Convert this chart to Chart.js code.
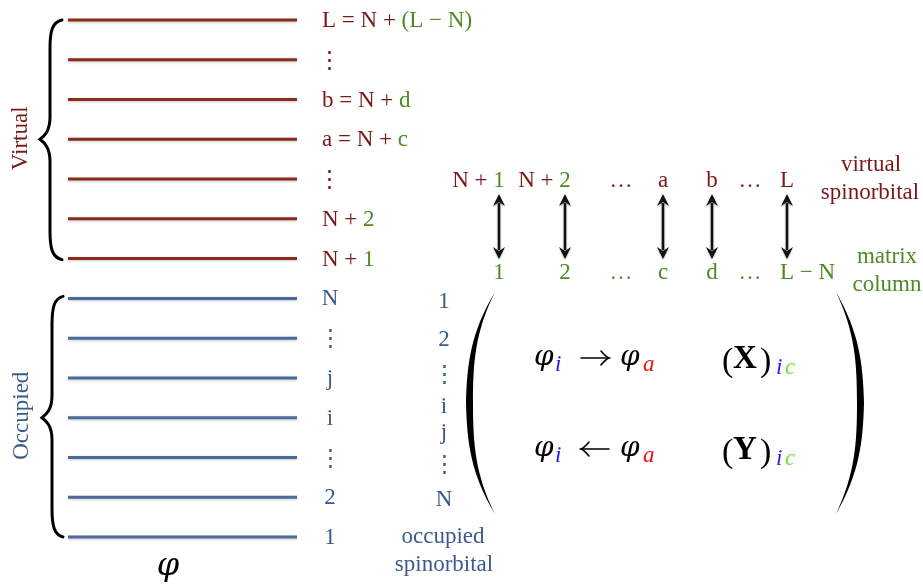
<!DOCTYPE html>
<html>
<head>
<meta charset="utf-8">
<script src="https://cdn.jsdelivr.net/npm/chart.js@4.4.0/dist/chart.umd.min.js"></script>
<style>
html,body{margin:0;padding:0;background:#fff;}
#wrap{width:923px;height:585px;}
</style>
</head>
<body>
<div id="wrap"><canvas id="c" width="923" height="585"></canvas></div>
<script>
// ---------------- DATA ----------------
// orbital levels, bottom to top
const occupiedLabels = ['1', '2', '⋮', 'i', 'j', '⋮', 'N'];
const virtualSpin    = ['N + ', 'N + ', '⋮', 'a = N + ', 'b = N + ', '⋮', 'L = N + '];
const virtualColumn  = ['1', '2', '', 'c', 'd', '', '(L − N)'];
// correspondence row (virtual spinorbital ↔ matrix column)
const topSpin        = ['N + ', 'N + ', '…', 'a', 'b', '…', 'L'];
const topSpinColumn  = ['1', '2', '', '', '', '', ''];
const matrixColumns  = ['1', '2', '…', 'c', 'd', '…', 'L − N'];
// matrix rows (occupied spinorbitals)
const matrixRows     = ['1', '2', '⋮', 'i', 'j', '⋮', 'N'];
// matrix blocks
const blockArrowDir  = [1, -1];   // 1: φi → φa, -1: φi ← φa
const blockNames     = ['X', 'Y'];

// ---------------- LAYOUT / STYLE ----------------
const W = 923, H = 585;
const lvlTopPx = 20, lvlBotPx = 537, nLevels = occupiedLabels.length + virtualSpin.length;
const unit = (lvlBotPx - lvlTopPx) / (nLevels - 1);
const yRange = H / unit;
const yMax = lvlBotPx / unit;
const yMin = yMax - yRange;
const lineX = [68, 297];
const colX = [499, 565, 621, 663, 712, 750, 787];
const rowY = [302, 340, 375, 407, 433, 465, 500];
const RED_LINE = '#8a2b1c', BLUE_LINE = '#4b6a9c';
const RED_TXT = '#7a1818', GREEN_TXT = '#4e8a26', BLUE_TXT = '#3d5a8c';
const SERIF = '"Liberation Serif", "DejaVu Serif", serif';
const F = 23;

const datasets = [];
occupiedLabels.forEach((l, k) => {
  datasets.push({ data: [{x: lineX[0], y: k}, {x: lineX[1], y: k}], showLine: true,
    borderColor: BLUE_LINE, borderWidth: 3, pointRadius: 0, fill: false });
});
virtualSpin.forEach((l, k) => {
  const lvl = k + occupiedLabels.length;
  datasets.push({ data: [{x: lineX[0], y: lvl}, {x: lineX[1], y: lvl}], showLine: true,
    borderColor: RED_LINE, borderWidth: 3, pointRadius: 0, fill: false });
});

function parts(ctx, segs, x, y, align) {
  let w = 0;
  segs.forEach(s => { ctx.font = s[2] || (F + 'px ' + SERIF); w += ctx.measureText(s[0]).width; });
  let cx = align === 'center' ? x - w / 2 : (align === 'right' ? x - w : x);
  segs.forEach(s => {
    ctx.font = s[2] || (F + 'px ' + SERIF);
    ctx.fillStyle = s[1];
    ctx.textAlign = 'left';
    ctx.fillText(s[0], cx, y);
    cx += ctx.measureText(s[0]).width;
  });
  return w;
}

function brace(ctx, xe, xb, xt, yt, ym, yb) {
  ctx.beginPath();
  ctx.moveTo(xe, yt);
  ctx.bezierCurveTo(xb + 2, yt + 2, xb, yt + 12, xb, yt + 28);
  ctx.lineTo(xb, ym - 22);
  ctx.bezierCurveTo(xb, ym - 8, xt + 4, ym - 3, xt, ym);
  ctx.bezierCurveTo(xt + 4, ym + 3, xb, ym + 8, xb, ym + 22);
  ctx.lineTo(xb, yb - 28);
  ctx.bezierCurveTo(xb, yb - 12, xb + 2, yb - 2, xe, yb);
  ctx.stroke();
}

function dblArrow(ctx, x, y1, y2) {
  const hl = 12, hw = 6;
  ctx.beginPath();
  ctx.moveTo(x, y1 + hl - 3); ctx.lineTo(x, y2 - hl + 3);
  ctx.stroke();
  ctx.beginPath();
  ctx.moveTo(x, y1); ctx.lineTo(x - hw, y1 + hl); ctx.lineTo(x, y1 + hl - 4); ctx.lineTo(x + hw, y1 + hl); ctx.closePath();
  ctx.fill();
  ctx.beginPath();
  ctx.moveTo(x, y2); ctx.lineTo(x - hw, y2 - hl); ctx.lineTo(x, y2 - hl + 4); ctx.lineTo(x + hw, y2 - hl); ctx.closePath();
  ctx.fill();
}

function mathArrow(ctx, x1, x2, y, dir) {
  ctx.save();
  ctx.strokeStyle = '#000';
  ctx.lineWidth = 1.6;
  ctx.lineCap = 'round';
  ctx.beginPath();
  ctx.moveTo(x1, y); ctx.lineTo(x2, y);
  ctx.stroke();
  const tip = dir > 0 ? x2 : x1;
  const back = -dir;
  ctx.beginPath();
  ctx.moveTo(tip + back * 8, y - 7);
  ctx.quadraticCurveTo(tip + back * 3, y - 1, tip, y);
  ctx.quadraticCurveTo(tip + back * 3, y + 1, tip + back * 8, y + 7);
  ctx.stroke();
  ctx.restore();
}

function paren(ctx, xTip, xMid, yt, yb, dir) {
  const ym = (yt + yb) / 2;
  ctx.beginPath();
  ctx.moveTo(xTip, yt);
  ctx.bezierCurveTo(xMid + dir * 2, yt + 40, xMid - dir * 2, ym - 40, xMid - dir * 3, ym);
  ctx.bezierCurveTo(xMid - dir * 2, ym + 40, xMid + dir * 2, yb - 40, xTip, yb);
  ctx.bezierCurveTo(xMid + dir * 6, yb - 40, xMid + dir * 4, ym + 40, xMid + dir * 4, ym);
  ctx.bezierCurveTo(xMid + dir * 4, ym - 40, xMid + dir * 6, yt + 40, xTip, yt);
  ctx.closePath();
  ctx.fill();
}

const diagram = {
  id: 'diagram',
  beforeDatasetsDraw(chart) {
    const ctx = chart.ctx;
    ctx.save();
    ctx.shadowColor = 'rgba(0,0,0,0.22)';
    ctx.shadowBlur = 3;
    ctx.shadowOffsetY = 1;
  },
  afterDatasetsDraw(chart) {
    const ctx = chart.ctx;
    ctx.restore();
    const xs = chart.scales.x, ys = chart.scales.y;
    const X = v => xs.getPixelForValue(v);
    const Y = v => ys.getPixelForValue(v);
    ctx.save();
    ctx.textBaseline = 'middle';
    const nOcc = occupiedLabels.length;

    // level labels
    occupiedLabels.forEach((l, k) => {
      parts(ctx, [[l, BLUE_TXT]], X(330), Y(k) + 1, 'center');
    });
    virtualSpin.forEach((l, k) => {
      const y = Y(k + nOcc) + 1;
      if (l === '⋮') parts(ctx, [[l, RED_TXT]], X(329), y, 'center');
      else parts(ctx, [[l, RED_TXT], [virtualColumn[k], GREEN_TXT]], X(322), y, 'left');
    });

    // braces
    ctx.strokeStyle = '#000';
    ctx.lineWidth = 3;
    ctx.lineCap = 'round';
    brace(ctx, X(62), X(50), X(40), Y(nLevels - 1), (Y(nLevels - 1) + Y(nOcc)) / 2, Y(nOcc) + 1);
    brace(ctx, X(63), X(52), X(42), Y(nOcc - 1) - 2, (Y(nOcc - 1) + Y(0)) / 2, Y(0));

    // rotated group names
    ctx.save();
    ctx.font = F + 'px ' + SERIF;
    ctx.textAlign = 'center';
    ctx.translate(X(21), (Y(nLevels - 1) + Y(nOcc)) / 2 - 1);
    ctx.rotate(-Math.PI / 2);
    ctx.fillStyle = RED_TXT;
    ctx.fillText('Virtual', 0, 0);
    ctx.restore();
    ctx.save();
    ctx.font = F + 'px ' + SERIF;
    ctx.textAlign = 'center';
    ctx.translate(X(22), (Y(nOcc - 1) + Y(0)) / 2 - 2);
    ctx.rotate(-Math.PI / 2);
    ctx.fillStyle = BLUE_TXT;
    ctx.fillText('Occupied', 0, 0);
    ctx.restore();

    // phi below levels
    ctx.textAlign = 'center';
    ctx.fillStyle = '#000';
    ctx.font = 'italic 32px "DejaVu Serif", serif';
    ctx.fillText('φ', X(168), 567);

    // top correspondence row
    topSpin.forEach((s, k) => {
      const x = X(colX[k]);
      if (topSpinColumn[k]) {
        ctx.font = F + 'px ' + SERIF;
        const wl = ctx.measureText(topSpinColumn[k]).width;
        parts(ctx, [[s, RED_TXT], [topSpinColumn[k], GREEN_TXT]], x + wl / 2, 181, 'right');
      } else {
        parts(ctx, [[s, RED_TXT]], x, 181, 'center');
      }
    });
    matrixColumns.forEach((s, k) => {
      const x = X(colX[k]);
      if (s.length > 1 && s !== '…') {
        ctx.font = F + 'px ' + SERIF;
        const wf = ctx.measureText(s[0]).width;
        parts(ctx, [[s, GREEN_TXT]], x - wf / 2, 273, 'left');
      } else {
        parts(ctx, [[s, GREEN_TXT]], x, 273, 'center');
      }
    });
    // arrows
    ctx.save();
    ctx.shadowColor = 'rgba(0,0,0,0.3)';
    ctx.shadowBlur = 2;
    ctx.shadowOffsetY = 1;
    ctx.strokeStyle = '#111';
    ctx.fillStyle = '#111';
    ctx.lineWidth = 2.6;
    ctx.lineCap = 'butt';
    matrixColumns.forEach((s, k) => {
      if (s !== '…') dblArrow(ctx, X(colX[k]), 194, 259);
    });
    ctx.restore();

    // side captions
    parts(ctx, [['virtual', RED_TXT]], X(871), 165, 'center');
    parts(ctx, [['spinorbital', RED_TXT]], X(870), 193, 'center');
    parts(ctx, [['matrix', GREEN_TXT]], X(887), 257, 'center');
    parts(ctx, [['column', GREEN_TXT]], X(887), 285, 'center');
    parts(ctx, [['occupied', BLUE_TXT]], X(443), 537, 'center');
    parts(ctx, [['spinorbital', BLUE_TXT]], X(444), 565, 'center');

    // matrix row labels
    matrixRows.forEach((r, k) => {
      parts(ctx, [[r, BLUE_TXT]], X(444), rowY[k], 'center');
    });

    // big parentheses
    ctx.fillStyle = '#000';
    paren(ctx, X(495), X(469), 292, 514, 1);
    paren(ctx, X(836), X(861), 292, 514, -1);

    // matrix blocks
    ctx.textBaseline = 'alphabetic';
    const phiF = 'italic 28px "DejaVu Serif", serif';
    const subF = 'italic 23px ' + SERIF;
    blockNames.forEach((b, k) => {
      const B = 368 + k * 91;
      ctx.textAlign = 'left';
      ctx.fillStyle = '#000';
      ctx.font = phiF; ctx.fillText('φ', X(534), B - 3);
      ctx.fillStyle = '#1a1aff'; ctx.font = subF; ctx.fillText('i', X(555), B + 3);
      mathArrow(ctx, X(581), X(609), B - 10, blockArrowDir[k]);
      ctx.fillStyle = '#000';
      ctx.font = phiF; ctx.fillText('φ', X(620), B - 3);
      ctx.fillStyle = '#e01414'; ctx.font = subF; ctx.fillText('a', X(643), B + 3);
      ctx.fillStyle = '#000';
      ctx.font = '34px ' + SERIF; ctx.fillText('(', X(722), B + 3);
      ctx.font = 'bold 33px ' + SERIF; ctx.fillText(b, X(733), B);
      ctx.font = '34px ' + SERIF; ctx.fillText(')', X(760), B + 3);
      ctx.font = subF;
      ctx.fillStyle = '#2222ff'; ctx.fillText('i', X(776), B + 6);
      ctx.fillStyle = '#6ee83c'; ctx.fillText('c', X(785), B + 6);
    });
    ctx.restore();
  }
};

new Chart(document.getElementById('c'), {
  type: 'scatter',
  data: { datasets },
  options: {
    responsive: false,
    animation: false,
    layout: { padding: 0 },
    plugins: { legend: { display: false }, tooltip: { enabled: false } },
    scales: {
      x: { type: 'linear', min: 0, max: W, display: false },
      y: { type: 'linear', min: yMin, max: yMax, display: false }
    },
    elements: { point: { radius: 0 } }
  },
  plugins: [diagram]
});
</script>
</body>
</html>
